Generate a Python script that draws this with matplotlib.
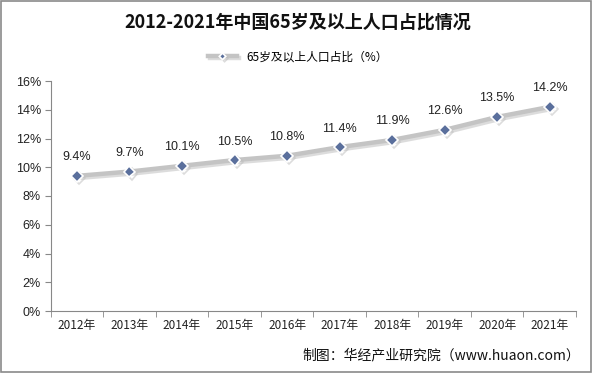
import matplotlib
matplotlib.use("Agg")
import matplotlib.pyplot as plt
import matplotlib.patheffects as pe
from matplotlib.patches import Rectangle
import numpy as np

plt.rcParams['font.family'] = ['Noto Sans CJK SC', 'DejaVu Sans']

years = ['2012年', '2013年', '2014年', '2015年', '2016年', '2017年', '2018年', '2019年', '2020年', '2021年']
values = [9.4, 9.7, 10.1, 10.5, 10.8, 11.4, 11.9, 12.6, 13.5, 14.2]
yticks = [0, 2, 4, 6, 8, 10, 12, 14, 16]

W, H = 596, 373
fig = plt.figure(figsize=(W/100, H/100), dpi=100)
fig.patches.append(Rectangle((0.002, 0.003), 0.99, 0.993, transform=fig.transFigure,
                             fill=False, edgecolor='#8a8a8a', linewidth=1.2))

ax = fig.add_axes([50.7/W, 1-311/H, (576-50.7)/W, (311-81)/H])
x = np.arange(len(years))
line, = ax.plot(x, values, color='#c4c4c4', linewidth=3.2, marker='D', markersize=6,
                markerfacecolor='#5a6f9c', markeredgecolor='white', markeredgewidth=1.2,
                label='65岁及以上人口占比（%）', zorder=3,
                path_effects=[pe.SimpleLineShadow(offset=(1.5, -1.5), shadow_color='#bbbbbb', alpha=0.5), pe.Normal()])
for xi, v in zip(x, values):
    ax.annotate(f'{v}%', (xi, v), xytext=(0, 9), textcoords='offset points',
                ha='center', va='bottom', fontsize=9, family=['Liberation Sans'], color='#222222')

ax.set_xlim(-0.5, len(years)-0.5)
ax.set_ylim(0, 16)
ax.set_yticks(yticks)
ax.set_yticklabels([f'{t}%' for t in yticks], family=['Liberation Sans'], fontsize=9, color='#222222')
ax.set_xticks(x)
ax.set_xticklabels(years, fontsize=8.5, color='#222222')
ax.set_xticks(np.arange(-0.5, len(years)), minor=True)
ax.tick_params(axis='x', which='major', length=0, pad=6)
ax.tick_params(axis='x', which='minor', length=4, color='#888888', direction='out')
ax.tick_params(axis='y', length=4, color='#888888', direction='out', pad=3)
for s in ['top', 'right']:
    ax.spines[s].set_visible(False)
ax.spines['left'].set_color('#888888')
ax.spines['bottom'].set_color('#888888')

fig.text(0.5, 1-22/H, '2012-2021年中国65岁及以上人口占比情况', ha='center', va='center',
         fontsize=13, fontweight='bold', color='#111111')
fig.legend(handles=[line], loc='center', bbox_to_anchor=(0.5, 1-57/H), frameon=False,
           handlelength=2.5, markerscale=0.55, prop={'size': 8.5})
fig.text(580/W, 1-355/H, '制图：华经产业研究院（www.huaon.com）', ha='right', va='center',
         fontsize=10, color='#111111')

fig.savefig('out.png', dpi=100)
